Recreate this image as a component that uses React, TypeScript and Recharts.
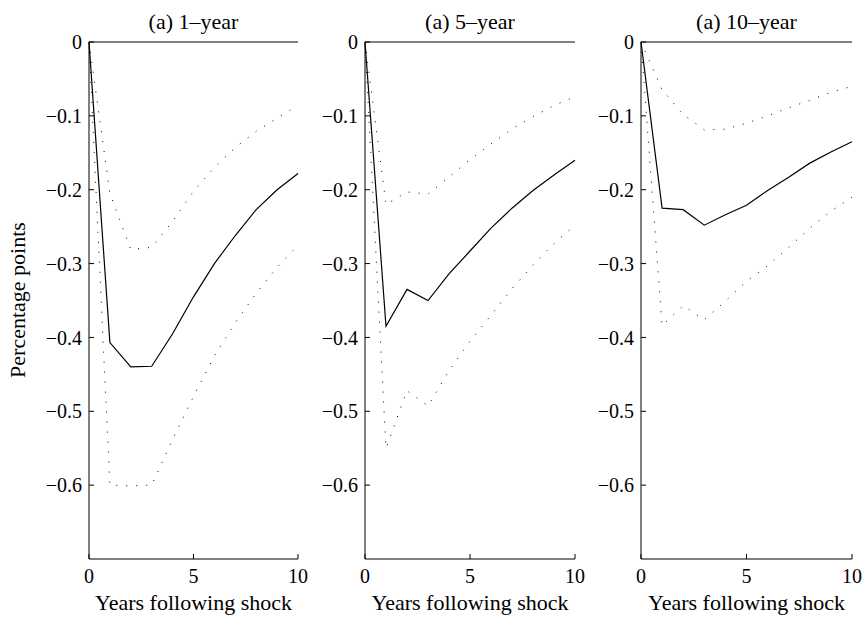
import { Label, LineChart, Line, ReferenceLine, XAxis, YAxis } from "recharts";

const years = [0, 1, 2, 3, 4, 5, 6, 7, 8, 9, 10];

const oneYearIrf = [0, -0.407, -0.44, -0.439, -0.395, -0.345, -0.3, -0.262, -0.227, -0.2, -0.178];
const oneYearUpper = [0, -0.205, -0.281, -0.278, -0.243, -0.202, -0.17, -0.143, -0.121, -0.103, -0.086];
const oneYearLower = [0, -0.6, -0.601, -0.6, -0.538, -0.48, -0.425, -0.38, -0.34, -0.305, -0.275];

const fiveYearIrf = [0, -0.385, -0.335, -0.35, -0.314, -0.283, -0.252, -0.225, -0.201, -0.18, -0.16];
const fiveYearUpper = [0, -0.22, -0.203, -0.206, -0.183, -0.159, -0.138, -0.118, -0.101, -0.086, -0.074];
const fiveYearLower = [0, -0.55, -0.472, -0.493, -0.445, -0.405, -0.37, -0.334, -0.302, -0.273, -0.248];

const tenYearIrf = [0, -0.225, -0.227, -0.248, -0.234, -0.221, -0.201, -0.183, -0.164, -0.149, -0.135];
const tenYearUpper = [0, -0.065, -0.098, -0.119, -0.118, -0.11, -0.1, -0.089, -0.079, -0.068, -0.06];
const tenYearLower = [0, -0.384, -0.357, -0.376, -0.351, -0.324, -0.303, -0.278, -0.252, -0.229, -0.21];

const titles = ["(a) 1\u2013year", "(a) 5\u2013year", "(a) 10\u2013year"];
const xTicks = [0, 5, 10];
const yTicks = [0, -0.1, -0.2, -0.3, -0.4, -0.5, -0.6];

const font = "'Liberation Serif', 'Times New Roman', serif";
const tickFs = 20;
const labelFs = 22;

function buildRows(irf: number[], upper: number[], lower: number[]) {
  return years.map((y, i) => ({ year: y, irf: irf[i], upper: upper[i], lower: lower[i] }));
}

const panels = [
  { title: titles[0], rows: buildRows(oneYearIrf, oneYearUpper, oneYearLower), left: 39, width: 259 },
  { title: titles[1], rows: buildRows(fiveYearIrf, fiveYearUpper, fiveYearLower), left: 315, width: 260 },
  { title: titles[2], rows: buildRows(tenYearIrf, tenYearUpper, tenYearLower), left: 591, width: 261 },
];

const fmtY = (v: number) => (v === 0 ? "0" : String(v).replace("-", "\u2212"));

const padRight = 12;

function Panel({ rows, width }: { rows: any[]; width: number }) {
  const tickStyle = { fill: "#000", fontSize: tickFs, fontFamily: font };
  return (
    <LineChart width={width + padRight} height={618} data={rows} margin={{ top: 42, right: padRight, bottom: 0, left: 0 }}>
      <XAxis
        dataKey="year"
        type="number"
        domain={[0, 10]}
        ticks={xTicks}
        height={59}
        tickSize={-5}
        tickMargin={15}
        tick={tickStyle}
        axisLine={{ stroke: "#000" }}
        tickLine={{ stroke: "#000" }}
        interval={0}
      >
        <Label
          value="Years following shock"
          position="insideBottom"
          offset={8}
          style={{ fill: "#000", fontSize: labelFs, fontFamily: font }}
        />
      </XAxis>
      <YAxis
        type="number"
        domain={[-0.7, 0]}
        ticks={yTicks}
        width={50}
        tickSize={-5}
        tickMargin={12}
        tick={tickStyle}
        tickFormatter={fmtY}
        axisLine={{ stroke: "#000" }}
        tickLine={{ stroke: "#000" }}
        interval={0}
      />
      <ReferenceLine y={0} stroke="#000" strokeWidth={1} />
      <Line dataKey="upper" stroke="#000" strokeWidth={1} strokeDasharray="1 9" dot={false} isAnimationActive={false} />
      <Line dataKey="lower" stroke="#000" strokeWidth={1} strokeDasharray="1 9" dot={false} isAnimationActive={false} />
      <Line dataKey="irf" stroke="#000" strokeWidth={1.2} dot={false} isAnimationActive={false} />
    </LineChart>
  );
}

export default function App() {
  return (
    <div style={{ position: "absolute", left: 0, top: 0, width: 865, height: 618, background: "#fff", fontFamily: font }}>
      {panels.map((p) => (
        <div key={p.title} style={{ position: "absolute", left: p.left, top: 0 }}>
          <Panel rows={p.rows} width={p.width} />
          <div
            style={{
              position: "absolute",
              left: 50,
              width: p.width - 50,
              top: 9,
              textAlign: "center",
              fontSize: labelFs,
              lineHeight: "26px",
              color: "#000",
              whiteSpace: "nowrap",
            }}
          >
            {p.title}
          </div>
        </div>
      ))}
      <div
        style={{
          position: "absolute",
          left: 18,
          top: 300,
          transform: "translate(-50%, -50%) rotate(-90deg)",
          whiteSpace: "nowrap",
          fontSize: labelFs,
          color: "#000",
        }}
      >
        Percentage points
      </div>
    </div>
  );
}
